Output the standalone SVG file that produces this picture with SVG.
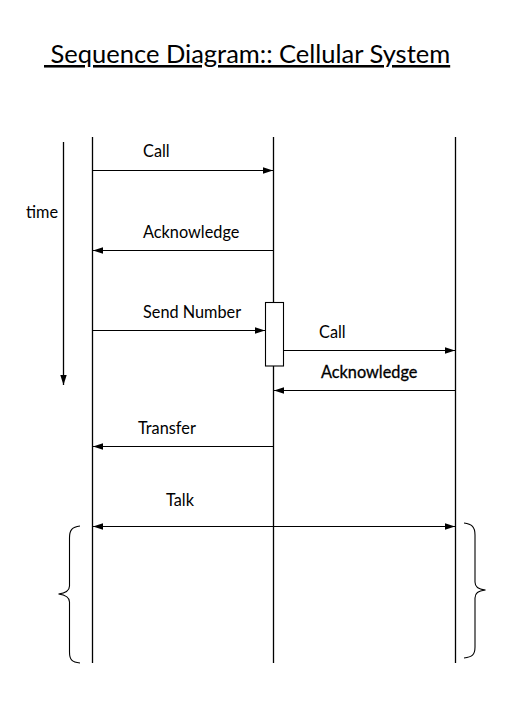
<svg xmlns="http://www.w3.org/2000/svg" width="512" height="703" viewBox="0 0 512 703">
<style>
text{font-family:Lato,"Liberation Sans",sans-serif;fill:#000}
.lbl{font-size:16.3px}
.ln{stroke:#000;stroke-width:1.3;fill:none}
.msg{stroke:#000;stroke-width:1.1;fill:none}
</style>
<defs>
<marker id="ah" viewBox="0 0 10 8" refX="10" refY="4" markerWidth="10" markerHeight="8" markerUnits="userSpaceOnUse" orient="auto-start-reverse">
<path d="M0,0.8 L10,4 L0,7.2 Z" fill="#000"/>
</marker>
</defs>
<rect width="512" height="703" fill="#fff"/>
<text x="44" y="63" font-size="25.5" text-decoration="underline" xml:space="preserve"> Sequence Diagram:: Cellular System</text>
<g id="time">
<line class="ln" x1="63.5" y1="142" x2="63.5" y2="385" marker-end="url(#ah)"/>
<text class="lbl" x="26" y="218">time</text>
</g>
<g id="lifeline1"><line class="ln" x1="92.5" y1="137" x2="92.5" y2="663"/></g>
<g id="lifeline2"><line class="ln" x1="273.5" y1="137" x2="273.5" y2="663"/></g>
<g id="lifeline3"><line class="ln" x1="455.5" y1="137" x2="455.5" y2="663"/></g>
<g id="activation"><rect x="265.5" y="302.5" width="18" height="63.5" fill="#fff" stroke="#000" stroke-width="1.1"/></g>
<g id="braces">
<path class="msg" d="M80,526 C72,527 69.5,530 69.5,538 L69.5,586 C69.5,591 66,593 58.5,594 C66,595 69.5,597 69.5,602 L69.5,652 C69.5,660 72,662 80,663"/>
<path class="msg" d="M464,523 C472,524 475,527 475,535 L475,582 C475,587 478,589 485.5,590 C478,591 475,593 475,598 L475,647 C475,655 472,657 464,658"/>
</g>
<g id="connectors">
<line class="msg" x1="93" y1="170.5" x2="273" y2="170.5" marker-end="url(#ah)"/>
<line class="msg" x1="273" y1="250.5" x2="93" y2="250.5" marker-end="url(#ah)"/>
<line class="msg" x1="93" y1="330.5" x2="265" y2="330.5" marker-end="url(#ah)"/>
<line class="msg" x1="284" y1="350.5" x2="455" y2="350.5" marker-end="url(#ah)"/>
<line class="msg" x1="455" y1="390.5" x2="274" y2="390.5" marker-end="url(#ah)"/>
<line class="msg" x1="273" y1="446.5" x2="93" y2="446.5" marker-end="url(#ah)"/>
<line class="msg" x1="93" y1="526.5" x2="455" y2="526.5" marker-start="url(#ah)" marker-end="url(#ah)"/>
</g>
<g id="labels">
<text class="lbl" x="143" y="157">Call</text>
<text class="lbl" x="143" y="238">Acknowledge</text>
<text class="lbl" x="143" y="318">Send Number</text>
<text class="lbl" x="319" y="338">Call</text>
<text class="lbl" x="321" y="378" stroke="#000" stroke-width="0.3">Acknowledge</text>
<text class="lbl" x="138" y="434">Transfer</text>
<text class="lbl" x="166" y="506">Talk</text>
</g>
</svg>
